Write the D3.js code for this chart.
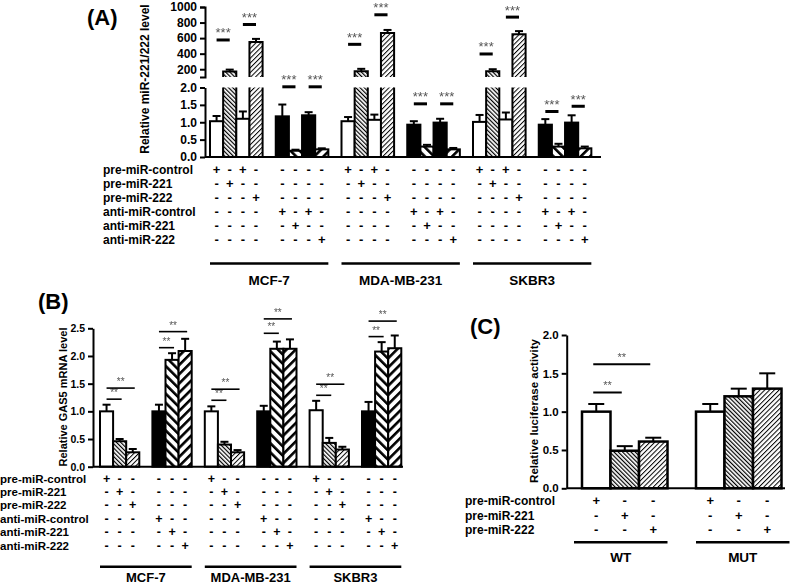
<!DOCTYPE html>
<html><head><meta charset="utf-8">
<script src="https://cdn.jsdelivr.net/npm/d3@7"></script>
<style>
body{margin:0;background:#fff}
text{font-family:"Liberation Sans",Arial,sans-serif;font-weight:bold;fill:#000}
.star{filter:grayscale(100%)}
</style>
</head><body>
<svg id="chart" width="800" height="586"></svg>
<script>
// ---------- DATA ----------
const cellLines = ["MCF-7", "MDA-MB-231", "SKBR3"];
const rowLabelsAB = ["pre-miR-control", "pre-miR-221", "pre-miR-222", "anti-miR-control", "anti-miR-221", "anti-miR-222"];

// Panel A (8 bars per cell line)
const treatA = [0, 1, 0, 2, 3, 4, 3, 5];
const styleA = ["white", "fine221", "white", "fine222", "black", "coarse221", "black", "coarse222"];
const meanA_MCF7 = [1.03, 170, 1.10, 550, 1.17, 0.18, 1.20, 0.22];
const errA_MCF7 = [0.15, 25, 0.21, 40, 0.34, 0.03, 0.09, 0.03];
const meanA_MDA = [1.03, 175, 1.07, 665, 0.93, 0.30, 0.99, 0.22];
const errA_MDA = [0.12, 30, 0.15, 40, 0.10, 0.05, 0.11, 0.04];
const meanA_SKBR3 = [1.01, 175, 1.08, 650, 0.93, 0.30, 0.99, 0.25];
const errA_SKBR3 = [0.20, 25, 0.20, 40, 0.16, 0.08, 0.21, 0.05];
const sigA_MCF7 = [576, 775, 2.02, 2.02];
const sigA_MDA = [520, 900, 1.53, 1.53];
const sigA_SKBR3 = [396, 870, 1.31, 1.46];
const ticksA_upper = [200, 400, 600, 800, 1000];
const ticksA_lower = [0, 0.5, 1.0, 1.5, 2.0];

// Panel B (6 bars per cell line)
const treatB = [0, 1, 2, 3, 4, 5];
const styleB = ["white", "fine221", "fine222", "black", "coarse221", "coarse222"];
const meanB_MCF7 = [1.00, 0.46, 0.26, 1.00, 1.93, 2.09];
const errB_MCF7 = [0.12, 0.04, 0.06, 0.12, 0.12, 0.22];
const meanB_MDA = [1.00, 0.40, 0.26, 1.00, 2.13, 2.13];
const errB_MDA = [0.09, 0.05, 0.04, 0.10, 0.13, 0.17];
const meanB_SKBR3 = [1.02, 0.43, 0.31, 1.00, 2.08, 2.14];
const errB_SKBR3 = [0.17, 0.09, 0.05, 0.17, 0.17, 0.23];
const sigB_MCF7 = [1.22, 1.42, 2.15, 2.44];
const sigB_MDA = [1.20, 1.40, 2.41, 2.67];
const sigB_SKBR3 = [1.29, 1.49, 2.35, 2.63];
const ticksB = [0, 0.5, 1.0, 1.5, 2.0, 2.5];

// Panel C
const groupsC = ["WT", "MUT"];
const rowLabelsC = ["pre-miR-control", "pre-miR-221", "pre-miR-222"];
const styleC = ["white", "fine221", "fine222"];
const meanC_WT = [1.00, 0.49, 0.61];
const errC_WT = [0.10, 0.06, 0.05];
const meanC_MUT = [1.00, 1.20, 1.30];
const errC_MUT = [0.10, 0.10, 0.20];
const sigC_WT = [1.25, 1.62];
const ticksC = [0, 0.5, 1.0, 1.5, 2.0];

const meansA = [meanA_MCF7, meanA_MDA, meanA_SKBR3];
const errsA = [errA_MCF7, errA_MDA, errA_SKBR3];
const sigsA = [sigA_MCF7, sigA_MDA, sigA_SKBR3];
const meansB = [meanB_MCF7, meanB_MDA, meanB_SKBR3];
const errsB = [errB_MCF7, errB_MDA, errB_SKBR3];
const sigsB = [sigB_MCF7, sigB_MDA, sigB_SKBR3];
const meansC = [meanC_WT, meanC_MUT];
const errsC = [errC_WT, errC_MUT];

// ---------- SETUP ----------
const svgRoot = d3.select("#chart");
const defs = svgRoot.append("defs");
const svg = svgRoot.append("g");
function hatch(id, spacing, width, angle) {
  const p = defs.append("pattern").attr("id", id)
    .attr("patternUnits", "userSpaceOnUse")
    .attr("width", spacing).attr("height", spacing)
    .attr("patternTransform", `rotate(${angle})`);
  p.append("rect").attr("width", spacing).attr("height", spacing).attr("fill", "#fff");
  p.append("rect").attr("x", 0).attr("y", 0).attr("width", width).attr("height", spacing).attr("fill", "#000");
}
hatch("fine221", 3.0, 1.2, -45);
hatch("fine222", 3.4, 1.0, 45);
hatch("coarse221", 6.5, 2.6, -45);
hatch("coarse222", 6.5, 2.6, 45);
const fillOf = s => s === "white" ? "#fff" : s === "black" ? "#000" : `url(#${s})`;

function styleAxis(g, fs) {
  g.select(".domain").attr("stroke-width", 2);
  g.selectAll(".tick line").attr("stroke-width", 2);
  g.selectAll(".tick text").style("font-size", fs + "px").style("font-weight", "bold")
    .style("font-family", '"Liberation Sans",Arial,sans-serif');
}
function errBar(g, cx, yTop, yErr, cap) {
  g.append("line").attr("x1", cx).attr("x2", cx).attr("y1", yTop).attr("y2", yErr)
    .attr("stroke", "#000").attr("stroke-width", 2);
  g.append("line").attr("x1", cx - cap / 2).attr("x2", cx + cap / 2).attr("y1", yErr).attr("y2", yErr)
    .attr("stroke", "#000").attr("stroke-width", 2);
}
function sig(g, x1, x2, y, label, sw, fs, dy) {
  g.append("line").attr("x1", x1).attr("x2", x2).attr("y1", y).attr("y2", y)
    .attr("stroke", "#000").attr("stroke-width", sw);
  g.append("text").attr("class", "star").attr("x", (x1 + x2) / 2).attr("y", y - dy).attr("text-anchor", "middle")
    .style("font-size", fs + "px").style("font-weight", "normal").style("fill", "#555").text(label);
}
function signTable(g, labels, lx, y0, dy, fs, cols) {
  labels.forEach((lab, r) => {
    g.append("text").attr("x", lx).attr("y", y0 + r * dy + fs * 0.36).style("font-size", fs + "px").text(lab);
  });
  cols.forEach(c => {
    labels.forEach((lab, r) => {
      g.append("text").attr("x", c.x).attr("y", y0 + r * dy + fs * 0.36).attr("text-anchor", "middle")
        .style("font-size", (fs + 1) + "px").text(c.row === r ? "+" : "-");
    });
  });
}

// ---------- PANEL A ----------
const gA = svg.append("g");
const xA = d3.scaleLinear().domain([0, 6]).range([210, 604.5]);
const wA = xA(0.2) - xA(0);
const yLow = d3.scaleLinear().domain([0, 2]).range([157, 87.5]);
const yUp = d3.scaleLinear().domain([100, 1000]).range([77, 7]);
const axisX = 205;

const colsA = [];
cellLines.forEach((cl, gi) => {
  meansA[gi].forEach((v, j) => {
    const k = gi * 8 + j, sub = Math.floor(k / 4), jj = k % 4;
    const x0 = xA(sub + jj * 0.2), cx = x0 + wA / 2;
    const f = fillOf(styleA[j]);
    const e = errsA[gi][j];
    colsA.push({ x: cx, row: treatA[j] });
    if (v <= 2) {
      errBar(gA, cx, yLow(v), yLow(v + e), 8);
      gA.append("rect").attr("x", x0).attr("y", yLow(v)).attr("width", wA).attr("height", yLow(0) - yLow(v))
        .attr("fill", f).attr("stroke", "#000").attr("stroke-width", 2);
    } else {
      gA.append("rect").attr("x", x0).attr("y", yLow(2)).attr("width", wA).attr("height", yLow(0) - yLow(2)).attr("fill", f);
      gA.append("path").attr("d", `M${x0},${yLow(2)}V${yLow(0)}M${x0 + wA},${yLow(2)}V${yLow(0)}`)
        .attr("stroke", "#000").attr("stroke-width", 2).attr("fill", "none");
      errBar(gA, cx, yUp(v), yUp(v + e), 8);
      gA.append("rect").attr("x", x0).attr("y", yUp(v)).attr("width", wA).attr("height", yUp(100) - yUp(v)).attr("fill", f);
      gA.append("path").attr("d", `M${x0},${yUp(100)}V${yUp(v)}H${x0 + wA}V${yUp(100)}`)
        .attr("stroke", "#000").attr("stroke-width", 2).attr("fill", "none");
    }
  });
  // significance
  sigsA[gi].forEach((lv, p) => {
    const k1 = gi * 8 + p * 2, k2 = k1 + 1;
    const c1 = xA(Math.floor(k1 / 4) + (k1 % 4) * 0.2) + wA / 2;
    const c2 = xA(Math.floor(k2 / 4) + (k2 % 4) * 0.2) + wA / 2;
    const y = p < 2 ? yUp(lv) : yLow(lv);
    sig(gA, c1, c2, y, "***", 3, 13, 2.5);
  });
  // group line + label
  const gx1 = xA(gi * 2), gx2 = xA(gi * 2 + 1 + 0.8);
  gA.append("line").attr("x1", gx1).attr("x2", gx2).attr("y1", 263.5).attr("y2", 263.5).attr("stroke", "#000").attr("stroke-width", 2.5);
  gA.append("text").attr("x", (gx1 + gx2) / 2).attr("y", 285).attr("text-anchor", "middle").style("font-size", "13.5px").text(cl);
});
const axLow = gA.append("g").attr("transform", `translate(${axisX},0)`)
  .call(d3.axisLeft(yLow).tickValues(ticksA_lower).tickFormat(d3.format(".1f")).tickSize(5).tickSizeOuter(0));
styleAxis(axLow, 12);
const axUp = gA.append("g").attr("transform", `translate(${axisX},0)`)
  .call(d3.axisLeft(yUp).tickValues(ticksA_upper).tickFormat(d3.format("d")).tickSize(5).tickSizeOuter(5));
styleAxis(axUp, 12);
gA.append("line").attr("x1", axisX).attr("x2", 601).attr("y1", yLow(0)).attr("y2", yLow(0)).attr("stroke", "#000").attr("stroke-width", 2);
gA.append("text").attr("transform", `translate(149,79) rotate(-90)`).attr("text-anchor", "middle").style("font-size", "12px").text("Relative miR-221/222 level");
gA.append("text").attr("x", 87).attr("y", 25).style("font-size", "22px").text("(A)");
signTable(gA, rowLabelsAB, 103, 170, 14, 12, colsA);

// ---------- PANEL B ----------
const gB = svg.append("g");
const xB = d3.scaleLinear().domain([0, 6]).range([100, 414.4]);
const wB = xB(0.25) - xB(0);
const yB = d3.scaleLinear().domain([0, 2.5]).range([466.7, 328.3]);
const axisXB = 93;
const colsB = [];
cellLines.forEach((cl, gi) => {
  const bx = [];
  meansB[gi].forEach((v, j) => {
    const k = gi * 6 + j, sub = Math.floor(k / 3), jj = k % 3;
    const x0 = xB(sub + jj * 0.25), cx = x0 + wB / 2;
    bx.push(cx);
    colsB.push({ x: cx, row: treatB[j] });
    errBar(gB, cx, yB(v), yB(v + errsB[gi][j]), 8);
    gB.append("rect").attr("x", x0).attr("y", yB(v)).attr("width", wB).attr("height", yB(0) - yB(v))
      .attr("fill", fillOf(styleB[j])).attr("stroke", "#000").attr("stroke-width", 2);
  });
  const s = sigsB[gi];
  sig(gB, bx[0], bx[1] + 2, yB(s[0]), "**", 1.6, 10, 3);
  sig(gB, bx[0], bx[2] + 2, yB(s[1]), "**", 1.6, 10, 3);
  sig(gB, bx[3], bx[4] + 2, yB(s[2]), "**", 1.6, 10, 3);
  sig(gB, bx[3], bx[5] + 2, yB(s[3]), "**", 1.6, 10, 3);
  const gx1 = xB(gi * 2), gx2 = xB(gi * 2 + 1 + 0.75);
  gB.append("line").attr("x1", gx1).attr("x2", gx2).attr("y1", 566.7).attr("y2", 566.7).attr("stroke", "#000").attr("stroke-width", 2.5);
  gB.append("text").attr("x", (gx1 + gx2) / 2).attr("y", 582).attr("text-anchor", "middle").style("font-size", "13px").text(cl);
});
const axB = gB.append("g").attr("transform", `translate(${axisXB},0)`)
  .call(d3.axisLeft(yB).tickValues(ticksB).tickFormat(d3.format(".1f")).tickSize(5).tickSizeOuter(0));
styleAxis(axB, 10.5);
gB.append("line").attr("x1", axisXB).attr("x2", 403).attr("y1", yB(0)).attr("y2", yB(0)).attr("stroke", "#000").attr("stroke-width", 2);
gB.append("text").attr("transform", `translate(67,397) rotate(-90)`).attr("text-anchor", "middle").style("font-size", "11px").text("Relative GAS5 mRNA level");
gB.append("text").attr("x", 38).attr("y", 309).style("font-size", "22px").text("(B)");
signTable(gB, rowLabelsAB, 0, 478.5, 13.4, 11.5, colsB);

// ---------- PANEL C ----------
const gC = svg.append("g");
const xC = d3.scaleLinear().domain([0, 7]).range([582, 781.5]);
const wC = xC(1) - xC(0);
const yC = d3.scaleLinear().domain([0, 2]).range([488.3, 335]);
const axisXC = 566.7;
const colsC = [];
groupsC.forEach((gname, gi) => {
  const bx = [];
  meansC[gi].forEach((v, j) => {
    const x0 = xC(gi * 4 + j), cx = x0 + wC / 2;
    bx.push(cx);
    colsC.push({ x: cx, row: j });
    errBar(gC, cx, yC(v), yC(v + errsC[gi][j]), 16);
    gC.append("rect").attr("x", x0).attr("y", yC(v)).attr("width", wC).attr("height", yC(0) - yC(v))
      .attr("fill", fillOf(styleC[j])).attr("stroke", "#000").attr("stroke-width", 2.5);
  });
  if (gi === 0) {
    sig(gC, bx[0] - 3, bx[1] - 3, yC(sigC_WT[0]), "**", 2, 11, 3);
    sig(gC, bx[0] - 3, bx[2] - 3, yC(sigC_WT[1]), "**", 2, 11, 3);
  }
  const gx1 = xC(gi * 4) - 8 * (1 - gi), gx2 = xC(gi * 4 + 3) + 8 * gi;
  gC.append("line").attr("x1", gx1).attr("x2", gx2).attr("y1", 542.3).attr("y2", 542.3).attr("stroke", "#000").attr("stroke-width", 2.5);
  gC.append("text").attr("x", (gx1 + gx2) / 2).attr("y", 562).attr("text-anchor", "middle").style("font-size", "13.5px").text(gname);
});
const axC = gC.append("g").attr("transform", `translate(${axisXC},0)`)
  .call(d3.axisLeft(yC).tickValues(ticksC).tickFormat(d3.format(".1f")).tickSize(5).tickSizeOuter(0));
styleAxis(axC, 11.5);
gC.append("line").attr("x1", axisXC).attr("x2", 785).attr("y1", yC(0)).attr("y2", yC(0)).attr("stroke", "#000").attr("stroke-width", 2);
gC.append("text").attr("transform", `translate(538,411) rotate(-90)`).attr("text-anchor", "middle").style("font-size", "11.5px").text("Relative luciferase activity");
gC.append("text").attr("x", 470).attr("y", 334).style("font-size", "22px").text("(C)");
signTable(gC, rowLabelsC, 465, 500.7, 14.6, 12, colsC);
</script>
</body></html>
